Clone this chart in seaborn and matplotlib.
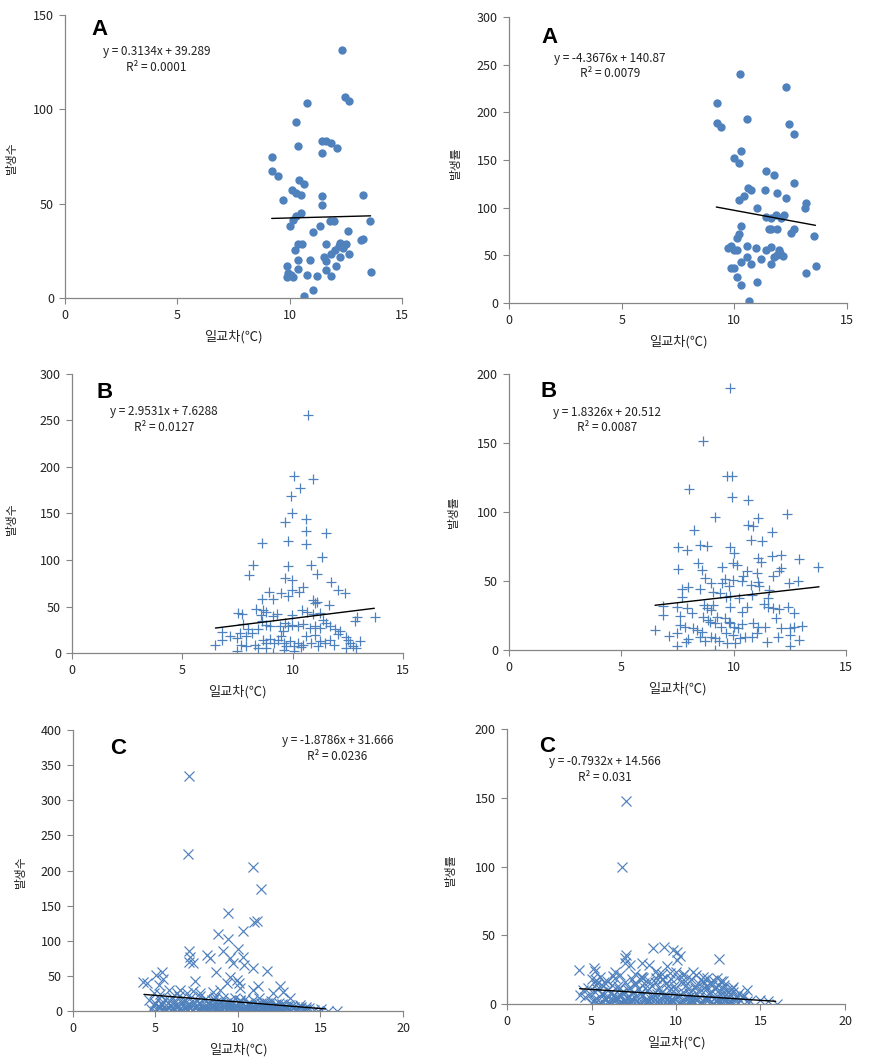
import matplotlib
matplotlib.use("Agg")
import matplotlib.pyplot as plt
import seaborn as sns
import pandas as pd

# ---------- data ----------
# A, left (발생수) and right (발생률)
a1_x = [12.35, 12.45, 12.63, 10.75, 10.26, 10.35, 11.46, 11.63, 11.83, 12.12,
        11.44, 9.23, 9.23, 9.46, 10.42, 10.64, 10.12, 10.27, 10.52, 9.72,
        11.46, 11.46, 13.25, 10.52, 10.26, 10.15, 10.03, 11.34, 11.78, 11.97,
        13.56, 11.04, 12.61, 10.35, 10.55, 11.63, 12.23, 12.52, 13.16, 13.27,
        10.24, 12.0, 12.38, 12.18, 12.63, 11.86, 11.54, 11.63, 12.23, 10.35,
        10.92, 9.86, 10.35, 12.05, 11.63, 9.94, 10.07, 9.86, 10.15, 10.75,
        11.23, 11.86, 13.64, 11.04, 10.64]
a1_y = [131.5, 106.8, 104.6, 103.4, 93.3, 80.6, 83.3, 83.3, 82.0, 79.6,
        76.6, 74.5, 67.4, 64.8, 62.6, 60.5, 57.3, 55.6, 54.7, 51.7,
        53.8, 49.4, 54.7, 45.0, 43.6, 41.5, 38.3, 38.3, 40.6, 40.6,
        40.6, 34.8, 35.6, 28.6, 28.6, 28.6, 29.1, 28.6, 30.5, 31.4,
        25.6, 25.2, 26.5, 27.4, 23.5, 23.5, 21.5, 19.8, 21.5, 19.9,
        20.3, 16.8, 15.5, 16.8, 14.6, 13.2, 12.2, 10.9, 10.9, 12.4,
        11.5, 11.5, 13.6, 4.4, 0.9]

a2_x = [10.24, 12.31, 9.21, 10.54, 9.21, 9.43, 12.41, 12.63, 10.31, 9.99,
        10.21, 11.42, 11.75, 12.63, 10.61, 10.73, 11.35, 11.91, 10.42, 10.21,
        12.31, 13.2, 13.12, 11.02, 11.42, 11.61, 11.84, 12.2, 12.07, 10.31,
        11.53, 11.61, 11.91, 12.63, 12.53, 10.21, 10.14, 13.52, 9.72, 9.87,
        10.14, 9.97, 10.54, 10.94, 11.61, 11.42, 11.98, 12.01, 10.54, 11.2,
        11.76, 11.9, 12.16, 10.31, 10.73, 11.61, 9.84, 9.99, 13.61, 13.2,
        10.14, 10.31, 11.02, 10.64]
a2_y = [240.0, 226.4, 209.6, 192.9, 188.7, 184.5, 187.7, 177.2, 159.4, 152.1,
        146.8, 138.5, 134.3, 125.9, 121.0, 118.6, 118.6, 115.8, 112.3, 108.1,
        110.2, 105.0, 100.1, 99.8, 90.7, 88.9, 92.4, 92.4, 88.9, 80.9,
        78.1, 77.4, 78.1, 78.1, 73.9, 72.5, 68.0, 69.8, 58.2, 59.3,
        55.8, 55.1, 60.0, 57.2, 58.6, 55.1, 55.8, 52.3, 47.8, 46.4,
        48.1, 50.2, 49.5, 42.6, 41.2, 41.2, 36.3, 36.3, 38.4, 31.0,
        26.9, 19.2, 21.6, 2.4]

# B, left and right
b1_x = [10.69, 10.08, 10.92, 10.32, 9.91, 9.95, 9.67, 10.62, 10.62, 11.53,
        9.80, 10.62, 8.61, 11.33, 8.2, 8.0, 9.8, 10.82, 11.12, 11.72,
        9.65, 9.95, 12.05, 12.36, 10.47, 9.95, 10.27, 9.49, 8.93, 9.8,
        9.11, 8.61, 10.92, 11.12, 11.0, 11.63, 8.35, 8.66, 8.81, 8.55,
        7.52, 7.72, 10.42, 10.66, 10.92, 11.22, 9.29, 9.11, 9.97, 12.92,
        13.73, 12.82, 11.37, 11.53, 7.75, 7.97, 8.43, 8.61, 8.81, 8.99,
        9.41, 9.64, 9.79, 9.95, 10.24, 10.47, 10.77, 11.0, 11.22, 11.68,
        11.9, 12.13, 12.05, 6.8, 7.15, 6.8, 6.47, 7.48, 7.6, 7.9,
        8.16, 7.67, 7.9, 8.28, 7.48, 8.66, 8.81, 8.99, 9.14, 9.34,
        9.49, 9.59, 9.71, 9.86, 10.05, 10.24, 10.47, 10.62, 10.85, 11.0,
        11.15, 11.45, 11.68, 11.87, 12.42, 12.5, 12.61, 12.73, 12.42, 12.89,
        13.04, 9.11, 9.59, 10.05, 8.81, 8.43, 10.39, 9.56, 11.22]
b1_y = [256.0, 190.8, 187.3, 177.2, 168.3, 150.4, 140.4, 143.9, 130.7, 129.3,
        120.7, 117.1, 118.2, 103.5, 94.9, 83.8, 93.1, 94.9, 85.2, 76.3,
        80.2, 78.8, 68.0, 64.4, 70.9, 67.3, 65.5, 64.4, 65.2, 60.9,
        58.4, 58.0, 56.6, 54.8, 53.7, 51.2, 47.6, 46.5, 44.0, 41.2,
        43.0, 41.9, 46.5, 44.0, 41.9, 43.0, 41.9, 39.4, 40.5, 38.7,
        38.7, 34.0, 35.1, 32.2, 31.5, 26.1, 25.8, 34.0, 30.4, 28.6,
        28.6, 32.2, 28.6, 30.4, 28.6, 31.5, 26.9, 29.4, 26.9, 28.6,
        25.8, 24.0, 20.4, 22.6, 17.9, 14.3, 9.0, 16.1, 21.5, 17.9,
        21.5, 9.0, 7.9, 9.0, 1.8, 14.3, 10.7, 15.0, 10.7, 14.3,
        17.9, 10.7, 7.2, 12.5, 7.2, 10.7, 9.0, 17.9, 10.7, 19.7,
        7.9, 10.7, 14.3, 9.0, 17.2, 13.6, 10.7, 7.2, 5.4, 5.4,
        12.5, 0.0, 3.6, 1.8, 5.4, 5.4, 6.1, 23.3, 12.5]

b2_x = [9.84, 8.65, 9.69, 9.94, 9.94, 10.65, 8.03, 9.17, 11.1, 12.36,
        10.65, 10.85, 8.25, 11.69, 10.77, 11.25, 7.51, 7.91, 8.5, 8.8,
        9.84, 10.03, 9.99, 10.13, 11.1, 11.22, 11.72, 12.11, 12.91, 13.74,
        7.54, 8.43, 8.58, 9.47, 10.61, 10.4, 11.02, 11.77, 12.0, 12.09,
        9.61, 9.99, 8.72, 8.99, 9.47, 9.78, 10.36, 11.1, 11.14, 10.77,
        12.46, 12.86, 7.98, 7.69, 8.5, 9.1, 9.39, 9.66, 9.84, 10.25,
        10.8, 11.59, 11.54, 7.69, 11.35, 11.51, 11.77, 12.42, 12.03, 12.67,
        10.58, 10.36, 9.84, 8.69, 8.8, 8.98, 9.1, 7.91, 8.13, 7.46,
        6.84, 6.84, 8.65, 8.84, 9.24, 9.61, 9.84, 10.03, 10.36, 10.88,
        11.1, 11.39, 11.87, 12.09, 12.49, 12.67, 13.06, 7.61, 7.61, 7.83,
        8.2, 8.35, 8.58, 8.95, 9.17, 9.44, 9.66, 6.5, 7.12, 7.49,
        7.49, 7.88, 7.98, 8.5, 8.72, 8.99, 9.17, 9.36, 9.69, 10.06,
        10.28, 10.5, 10.8, 11.02, 11.47, 11.96, 12.49, 12.91, 12.51, 9.17,
        9.99, 10.21, 9.81]
b2_y = [189.6, 151.2, 126.3, 126.1, 111.1, 108.7, 116.7, 96.6, 95.4, 98.6,
        90.6, 89.9, 87.0, 85.7, 79.7, 79.0, 74.9, 72.5, 75.8, 75.4,
        74.9, 70.5, 62.8, 61.6, 66.9, 64.0, 68.1, 68.8, 65.9, 59.9,
        58.5, 62.8, 58.0, 59.9, 57.2, 53.9, 55.6, 53.6, 57.2, 59.2,
        51.7, 50.7, 52.4, 48.3, 48.3, 46.4, 50.0, 49.5, 46.6, 47.1,
        48.3, 50.0, 45.4, 44.0, 44.0, 42.3, 41.1, 38.6, 39.1, 37.4,
        39.9, 43.5, 37.4, 38.6, 33.3, 30.9, 30.2, 31.4, 29.5, 27.1,
        31.4, 27.8, 30.9, 32.6, 30.2, 29.0, 32.6, 30.2, 26.6, 31.4,
        31.9, 25.1, 24.2, 21.7, 24.2, 22.9, 19.3, 16.4, 18.8, 19.8,
        16.9, 16.9, 22.9, 15.7, 15.7, 16.9, 17.4, 24.6, 18.1, 16.9,
        15.7, 14.5, 13.3, 20.5, 19.3, 16.9, 12.1, 14.5, 10.1, 12.1,
        2.9, 6.0, 7.7, 9.7, 6.8, 9.7, 8.9, 6.8, 4.8, 4.8,
        8.5, 9.2, 9.7, 12.6, 6.0, 9.2, 10.9, 7.2, 2.9, 0.0,
        10.9, 15.7, 20.5]

# C, left: scattered points above the dense band, then the band itself
c1_out_x = [7.06, 6.94, 10.93, 11.37, 9.38, 10.99, 11.17, 10.32, 8.77, 9.38,
            7.06, 7.1, 7.06, 7.3, 8.1, 8.31, 9.11, 9.98, 10.28, 10.38,
            9.52, 9.72, 8.67, 10.93, 11.73, 9.92, 10.08, 7.4, 9.52, 9.31,
            11.23, 12.54, 4.48, 4.27, 5.04, 5.38, 5.48, 5.24, 5.79, 6.49,
            6.9, 7.7, 8.51, 8.91, 10.12, 10.93, 12.14, 12.74, 13.15, 4.58,
            4.88, 14.86, 15.46, 15.97, 15.06, 13.75, 14.15]
c1_out_y = [335.0, 223.0, 205.5, 173.2, 139.0, 127.2, 128.1, 113.9, 109.1, 102.5,
            85.9, 77.3, 70.2, 68.8, 79.7, 75.0, 85.9, 87.8, 77.3, 65.5,
            75.0, 67.9, 56.0, 60.7, 56.9, 44.1, 40.3, 42.7, 48.9, 39.4,
            35.6, 35.6, 39.4, 41.8, 51.2, 56.0, 45.1, 37.0, 29.9, 29.9,
            25.1, 25.1, 27.5, 29.9, 32.3, 29.9, 25.1, 27.5, 18.0, 15.7,
            25.1, 0.0, 0.0, 0.0, 2.4, 8.5, 6.0]
c1_band_x = [4.7, 4.9, 5.0, 5.1, 5.2, 5.3, 5.4, 5.5, 5.6, 5.8,
             5.9, 6.0, 6.1, 6.2, 6.3, 6.4, 6.5, 6.6, 6.7, 6.8,
             6.9, 7.0, 7.1, 7.2, 7.3, 7.4, 7.5, 7.6, 7.7, 7.8,
             7.9, 8.0, 8.1, 8.2, 8.3, 8.4, 8.5, 8.6, 8.7, 8.8,
             8.9, 9.0, 9.1, 9.2, 9.3, 9.4, 9.5, 9.6, 9.7, 9.8,
             9.9, 10.0, 10.1, 10.2, 10.3, 10.4, 10.5, 10.6, 10.7, 10.8,
             10.9, 11.0, 11.1, 11.2, 11.3, 11.4, 11.5, 11.6, 11.7, 11.8,
             11.9, 12.0, 12.1, 12.2, 12.3, 12.4, 12.5, 12.6, 12.7, 12.8,
             12.9, 13.0, 13.1, 13.2, 13.4, 13.6, 13.8, 14.0, 14.3, 14.6,
             5.0, 5.5, 6.0, 6.5, 7.0, 7.5, 8.0, 8.5, 9.0, 9.5,
             10.0, 10.5, 11.0, 11.5, 12.0, 12.5, 13.0, 5.3, 6.3, 7.3,
             8.3, 9.3, 10.3, 11.3, 12.3, 6.8, 8.8, 10.8, 9.8, 11.8]
c1_band_y = [3, 8, 12, 2, 18, 6, 10, 1, 15, 4,
             9, 20, 2, 13, 7, 22, 0, 11, 5, 16,
             3, 8, 19, 1, 12, 6, 14, 2, 21, 9,
             4, 17, 0, 11, 7, 15, 3, 20, 6, 10,
             1, 13, 18, 5, 8, 2, 16, 11, 4, 19,
             7, 0, 14, 9, 3, 17, 6, 12, 2, 10,
             15, 5, 8, 1, 18, 11, 4, 13, 7, 2,
             9, 14, 5, 0, 10, 6, 12, 3, 8, 1,
             7, 4, 9, 2, 6, 3, 5, 1, 4, 2,
             0, 5, 0, 4, 1, 8, 3, 9, 0, 5,
             2, 0, 3, 7, 1, 0, 2, 24, 26, 28,
             1, 2, 0, 1, 0, 5, 4, 6, 3, 5]
c1_band2_x = [5.15, 5.35, 5.65, 5.85, 6.05, 6.25, 6.45, 6.65, 6.85, 7.05,
              7.25, 7.45, 7.65, 7.85, 8.05, 8.25, 8.45, 8.65, 8.85, 9.05,
              9.25, 9.45, 9.65, 9.85, 10.05, 10.25, 10.45, 10.65, 10.85, 11.05,
              11.25, 11.45, 11.65, 11.85, 12.05, 12.25, 12.45, 12.65, 12.85, 13.05,
              13.25, 13.45, 13.65, 13.85, 14.1, 5.45, 6.15, 6.95, 7.55, 8.15,
              8.75, 9.15, 9.55, 9.95, 10.35, 10.75, 11.15, 11.55, 11.95, 12.35,
              12.75, 13.15, 13.55, 7.95, 9.75, 10.55, 11.35, 8.55, 10.15, 11.75]
c1_band2_y = [6, 11, 2, 14, 5, 9, 1, 13, 4, 10,
              0, 7, 12, 3, 9, 1, 6, 13, 2, 8,
              11, 4, 0, 9, 12, 3, 7, 10, 1, 6,
              9, 2, 11, 5, 0, 8, 3, 10, 5, 2,
              7, 1, 4, 2, 3, 0, 1, 2, 0, 4,
              1, 0, 3, 1, 0, 2, 0, 1, 3, 0,
              2, 0, 1, 6, 5, 4, 3, 17, 16, 12]

# C, right
c2_out_x = [7.03, 6.83, 4.26, 5.13, 12.56, 7.07, 6.97, 7.3, 6.97, 8.65,
            9.28, 9.83, 10.07, 10.23, 10.03, 7.96, 8.41, 9.44, 9.63, 8.94,
            11.02, 11.81, 12.21, 12.69, 6.28, 5.29, 5.29, 4.5, 4.3, 13.39,
            14.18, 14.97, 15.46, 15.95]
c2_out_y = [147.4, 99.6, 25.0, 25.9, 32.7, 35.9, 33.5, 28.6, 29.8, 40.7,
            41.5, 39.5, 37.6, 34.7, 32.2, 29.8, 28.6, 27.4, 22.5, 21.3,
            23.0, 18.9, 17.7, 16.5, 20.6, 17.7, 14.1, 10.4, 6.8, 12.4,
            10.4, 3.2, 1.9, 0.0]
c2_band_x = [4.6, 4.8, 5.0, 5.1, 5.2, 5.3, 5.4, 5.5, 5.6, 5.7,
             5.8, 5.9, 6.0, 6.1, 6.2, 6.3, 6.4, 6.5, 6.6, 6.7,
             6.8, 6.9, 7.0, 7.1, 7.2, 7.3, 7.4, 7.5, 7.6, 7.7,
             7.8, 7.9, 8.0, 8.1, 8.2, 8.3, 8.4, 8.5, 8.6, 8.7,
             8.8, 8.9, 9.0, 9.1, 9.2, 9.3, 9.4, 9.5, 9.6, 9.7,
             9.8, 9.9, 10.0, 10.1, 10.2, 10.3, 10.4, 10.5, 10.6, 10.7,
             10.8, 10.9, 11.0, 11.1, 11.2, 11.3, 11.4, 11.5, 11.6, 11.7,
             11.8, 11.9, 12.0, 12.1, 12.2, 12.3, 12.4, 12.5, 12.6, 12.7,
             12.8, 12.9, 13.0, 13.1, 13.2, 13.3, 13.5, 13.7, 13.9, 14.2,
             5.0, 5.4, 5.8, 6.2, 6.6, 7.0, 7.4, 7.8, 8.2, 8.6,
             9.0, 9.4, 9.8, 10.2, 10.6, 11.0, 11.4, 11.8, 12.2, 12.6,
             13.0, 13.4, 5.2, 6.4, 7.6, 8.8, 10.0, 11.2, 12.4, 13.6,
             5.6, 6.8, 8.0, 9.2, 10.4, 11.6, 12.8, 9.6, 10.8, 7.2]
c2_band_y = [5, 12, 18, 2, 9, 15, 0, 20, 7, 13,
             3, 17, 10, 1, 14, 6, 19, 4, 11, 21,
             8, 2, 16, 5, 12, 0, 18, 9, 14, 3,
             11, 20, 6, 15, 1, 10, 17, 4, 13, 7,
             19, 2, 12, 8, 22, 5, 15, 0, 10, 18,
             3, 13, 7, 20, 1, 16, 9, 4, 14, 11,
             6, 18, 2, 12, 8, 15, 0, 10, 17, 5,
             13, 3, 9, 16, 1, 11, 6, 14, 2, 8,
             12, 4, 10, 1, 7, 11, 3, 8, 5, 2,
             1, 3, 0, 4, 1, 2, 3, 0, 2, 1,
             3, 0, 2, 1, 0, 2, 1, 3, 0, 2,
             1, 0, 24, 23, 22, 24, 23, 21, 19, 6,
             8, 9, 20, 18, 21, 20, 17, 5, 3, 6]
c2_band2_x = [4.9, 5.15, 5.35, 5.55, 5.75, 5.95, 6.15, 6.35, 6.55, 6.75,
              6.95, 7.15, 7.35, 7.55, 7.75, 7.95, 8.15, 8.35, 8.55, 8.75,
              8.95, 9.15, 9.35, 9.55, 9.75, 9.95, 10.15, 10.35, 10.55, 10.75,
              10.95, 11.15, 11.35, 11.55, 11.75, 11.95, 12.15, 12.35, 12.55, 12.75,
              12.95, 13.15, 13.35, 13.55, 13.8, 14.0, 14.4, 5.45, 6.05, 6.65,
              7.25, 7.85, 8.45, 9.05, 9.65, 10.25, 10.85, 11.45, 12.05, 12.65,
              13.25, 5.85, 6.45, 7.05, 7.65, 8.25, 8.85, 9.45, 10.05, 10.65,
              11.25, 11.85, 12.45, 13.05, 13.65, 8.05, 9.25, 10.45, 11.65, 12.85]
c2_band2_y = [7, 3, 11, 1, 16, 5, 9, 2, 13, 6,
              0, 10, 4, 15, 1, 8, 12, 3, 6, 16,
              1, 9, 5, 13, 2, 11, 6, 0, 17, 8,
              3, 13, 5, 1, 11, 7, 14, 2, 10, 4,
              7, 1, 9, 5, 3, 6, 2, 0, 1, 0,
              2, 0, 1, 0, 2, 0, 1, 0, 2, 0,
              1, 4, 5, 3, 6, 4, 7, 3, 5, 4,
              3, 4, 2, 4, 1, 19, 18, 22, 15, 14]

# trend lines: slope, intercept (from the printed equations), x range of the drawn line
slopes = [0.3134, -4.3676, 2.9531, 1.8326, -1.8786, -0.7932]
intercepts = [39.289, 140.87, 7.6288, 20.512, 31.666, 14.566]
line_x = [[9.2, 13.6], [9.2, 13.6], [6.5, 13.7], [6.5, 13.8], [4.3, 15.3], [4.3, 15.9]]
eq_text = ["y = 0.3134x + 39.289", "y = -4.3676x + 140.87", "y = 2.9531x + 7.6288",
           "y = 1.8326x + 20.512", "y = -1.8786x + 31.666", "y = -0.7932x + 14.566"]
r2_text = ["R² = 0.0001", "R² = 0.0079", "R² = 0.0127",
           "R² = 0.0087", "R² = 0.0236", "R² = 0.031"]
letters = ["A", "A", "B", "B", "C", "C"]
y_labels = ["발생수", "발생률", "발생수", "발생률", "발생수", "발생률"]
x_label = "일교차(℃)"
y_max = [150, 300, 300, 200, 400, 200]
x_max = [15, 15, 15, 15, 20, 20]

# ---------- figure ----------
sns.set_theme(style="white")
plt.rcParams['font.family'] = ['Noto Sans CJK KR', 'DejaVu Sans']

BLUE = "#4F81BD"
fig = plt.figure(figsize=(8.79, 10.62), dpi=100)

# axes boxes in pixels (left, top, right, bottom) measured on the reference
boxes = [(65, 15, 402, 298), (509, 17, 847, 303),
         (72, 374, 403, 653), (509, 374, 846, 650),
         (73, 730, 403, 1011), (507, 729, 845, 1004)]
eq_pos = [(0.272, 0.871, 0.813), (0.298, 0.855, 0.802),
          (0.278, 0.864, 0.808), (0.290, 0.862, 0.806),
          (0.801, 0.961, 0.905), (0.290, 0.881, 0.824)]
letter_pos = [(0.102, 0.949), (0.121, 0.930), (0.097, 0.933),
              (0.117, 0.936), (0.138, 0.935), (0.118, 0.937)]
ylabel_pos = [(-0.139, 0.495), (-0.139, 0.49), (-0.163, 0.48),
              (-0.145, 0.50), (-0.139, 0.495), (-0.148, 0.49)]

W, H = 879, 1062
axes = []
for (l, t, r, b) in boxes:
    axes.append(fig.add_axes([l / W, (H - b) / H, (r - l) / W, (b - t) / H]))

c1_df = pd.DataFrame({"x": c1_out_x + c1_band_x + c1_band2_x,
                      "y": c1_out_y + c1_band_y + c1_band2_y})
c2_df = pd.DataFrame({"x": c2_out_x + c2_band_x + c2_band2_x,
                      "y": c2_out_y + c2_band_y + c2_band2_y})

sns.scatterplot(x=a1_x, y=a1_y, ax=axes[0], marker="o", s=36, color=BLUE, linewidth=0)
sns.scatterplot(x=a2_x, y=a2_y, ax=axes[1], marker="o", s=36, color=BLUE, linewidth=0)
sns.scatterplot(x=b1_x, y=b1_y, ax=axes[2], marker="+", s=50, color=BLUE, linewidth=0.9)
sns.scatterplot(x=b2_x, y=b2_y, ax=axes[3], marker="+", s=50, color=BLUE, linewidth=0.9)
sns.scatterplot(data=c1_df, x="x", y="y", ax=axes[4], marker="x", s=52, color=BLUE, linewidth=0.85)
sns.scatterplot(data=c2_df, x="x", y="y", ax=axes[5], marker="x", s=52, color=BLUE, linewidth=0.85)

for i, ax in enumerate(axes):
    lx = line_x[i]
    ly = [slopes[i] * v + intercepts[i] for v in lx]
    sns.lineplot(x=lx, y=ly, ax=ax, color="black", linewidth=1.0)

    ax.set_xlim(0, x_max[i])
    ax.set_ylim(0, y_max[i])
    ax.set_xticks(range(0, x_max[i] + 1, 5))
    ax.set_yticks(range(0, y_max[i] + 1, 50))
    for side in ["top", "right"]:
        ax.spines[side].set_visible(False)
    for side in ["left", "bottom"]:
        ax.spines[side].set_color("#868686")
        ax.spines[side].set_linewidth(0.9)
    ax.tick_params(direction="out", length=4, width=0.8, color="#868686",
                   labelsize=9, labelcolor="#222222", pad=4,
                   bottom=True, left=True)
    ax.set_xlabel(x_label, fontsize=9.5, labelpad=6, color="#222222")
    ax.set_ylabel(y_labels[i], fontsize=8.5, color="#222222")
    ax.yaxis.set_label_coords(*ylabel_pos[i])

    ex, ey, ry = eq_pos[i]
    ax.text(ex, ey, eq_text[i], transform=ax.transAxes, ha="center", va="center",
            fontsize=8.5, color="#222222")
    ax.text(ex, ry, r2_text[i], transform=ax.transAxes, ha="center", va="center",
            fontsize=8.5, color="#222222")
    lx_, ly_ = letter_pos[i]
    ax.text(lx_, ly_, letters[i], transform=ax.transAxes, ha="center", va="center",
            fontsize=16, fontweight="bold", color="black", family="Liberation Sans")

fig.savefig("out.png", dpi=100)
